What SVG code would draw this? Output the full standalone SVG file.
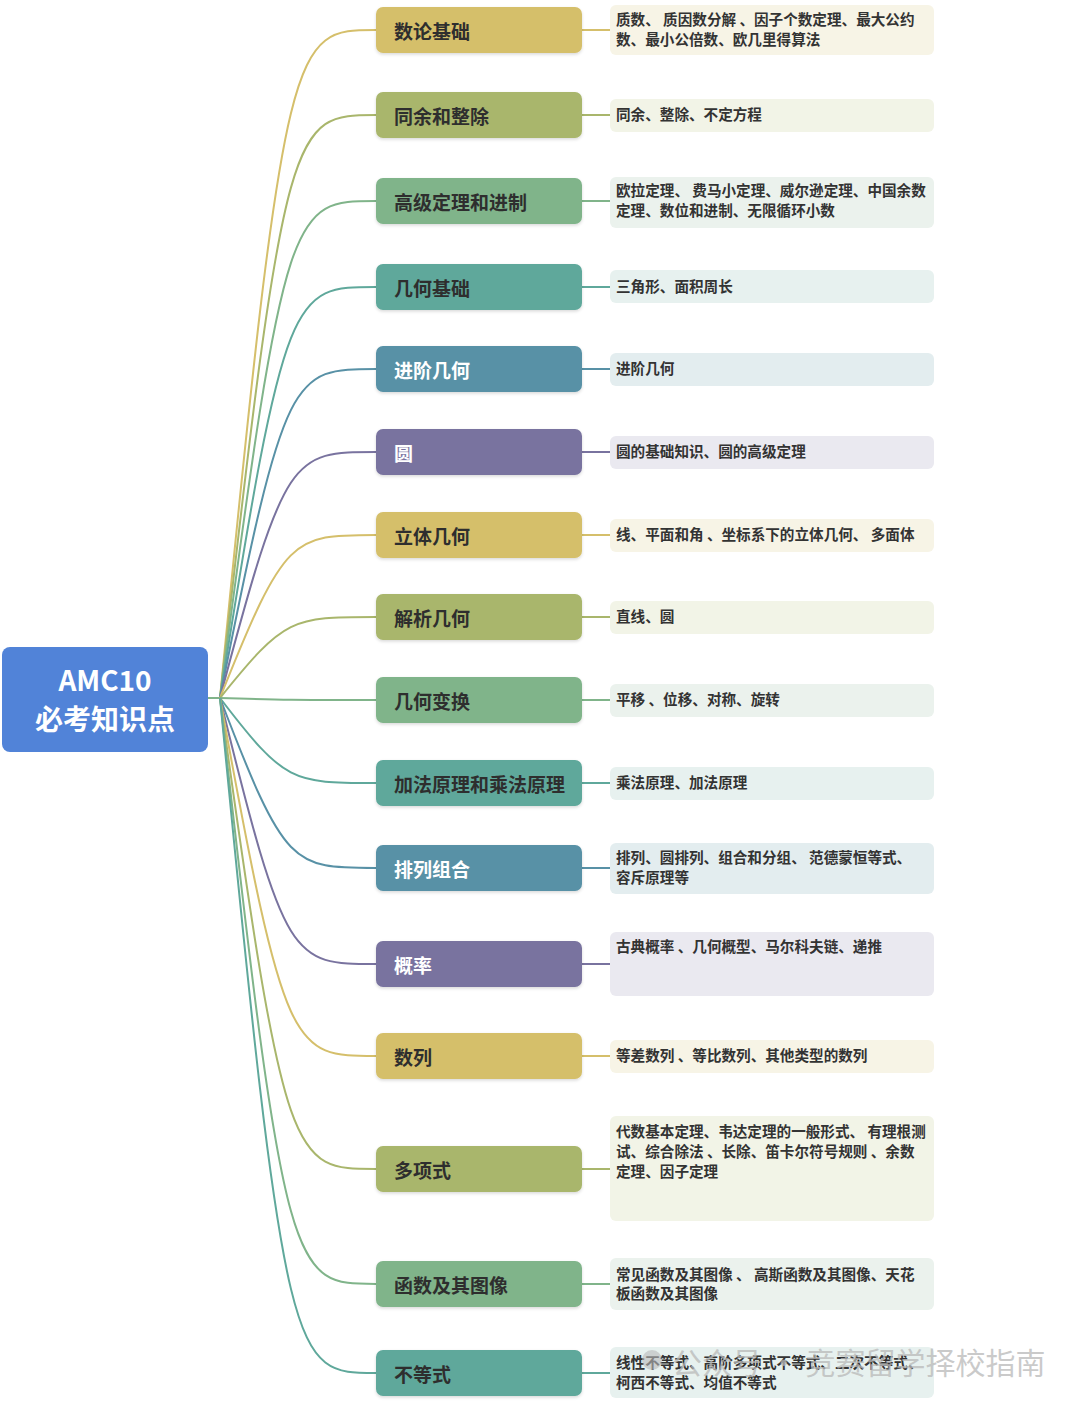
<svg xmlns="http://www.w3.org/2000/svg" width="1080" height="1406" viewBox="0 0 1080 1406">
<style>
.cat{font-family:"Noto Sans CJK SC","Noto Sans",sans-serif;font-size:19px;font-weight:700;fill:#2e2e2e;dominant-baseline:central}
.catw{fill:#ffffff}
.det{font-family:"Noto Sans CJK SC","Noto Sans",sans-serif;font-size:14.6px;font-weight:700;fill:#333333}
.root{font-family:"Noto Sans CJK SC","Noto Sans",sans-serif;font-size:28px;font-weight:700;fill:#ffffff;text-anchor:middle}
.c{fill:none;stroke-width:2}
.gold{fill:#d5bf6b}.olive{fill:#a9b66c}.green{fill:#80b48a}.teal{fill:#5fa89b}.blue{fill:#5891a6}.purple{fill:#79739f}
.sgold{stroke:#d5bf6b}.solive{stroke:#a9b66c}.sgreen{stroke:#80b48a}.steal{stroke:#5fa89b}.sblue{stroke:#5891a6}.spurple{stroke:#79739f}
.dgold{fill:#f7f4e6}.dolive{fill:#f2f4e7}.dgreen{fill:#ebf2ed}.dteal{fill:#e7f1ef}.dblue{fill:#e3edef}.dpurple{fill:#eae9f0}
.wm{font-family:"Noto Sans CJK SC","Noto Sans",sans-serif;font-size:30px;fill:#b9b9b9;fill-opacity:0.75}
</style>
<defs>
<filter id="sh" x="-5%" y="-20%" width="110%" height="150%">
<feDropShadow dx="0" dy="1.5" stdDeviation="1.5" flood-color="#000" flood-opacity="0.15"/>
</filter>
</defs>
<rect width="1080" height="1406" fill="#ffffff"/>

<g id="connectors">
<line x1="208" y1="698" x2="222" y2="698" stroke="#80b48a" stroke-width="2"/>
<path class="c sgold" d="M220,698 C285,30 292,30 376,30"/>
<path class="c solive" d="M220,698 C285,115 292,115 376,115"/>
<path class="c sgreen" d="M220,698 C285,201 292,201 376,201"/>
<path class="c steal" d="M220,698 C285,287 292,287 376,287"/>
<path class="c sblue" d="M220,698 C285,369 292,369 376,369"/>
<path class="c spurple" d="M220,698 C285,452 292,452 376,452"/>
<path class="c sgold" d="M220,698 C285,535 292,535 376,535"/>
<path class="c solive" d="M220,698 C285,617 292,617 376,617"/>
<path class="c sgreen" d="M220,698 C285,700 292,700 376,700"/>
<path class="c steal" d="M220,698 C285,783 292,783 376,783"/>
<path class="c sblue" d="M220,698 C285,868 292,868 376,868"/>
<path class="c spurple" d="M220,698 C285,964 292,964 376,964"/>
<path class="c sgold" d="M220,698 C285,1056 292,1056 376,1056"/>
<path class="c solive" d="M220,698 C285,1169 292,1169 376,1169"/>
<path class="c sgreen" d="M220,698 C285,1284 292,1284 376,1284"/>
<path class="c steal" d="M220,698 C285,1373 292,1373 376,1373"/>
<line class="c sgold" x1="582" y1="30" x2="610" y2="30"/>
<line class="c solive" x1="582" y1="115" x2="610" y2="115"/>
<line class="c sgreen" x1="582" y1="201" x2="610" y2="201"/>
<line class="c steal" x1="582" y1="287" x2="610" y2="287"/>
<line class="c sblue" x1="582" y1="369" x2="610" y2="369"/>
<line class="c spurple" x1="582" y1="452" x2="610" y2="452"/>
<line class="c sgold" x1="582" y1="535" x2="610" y2="535"/>
<line class="c solive" x1="582" y1="617" x2="610" y2="617"/>
<line class="c sgreen" x1="582" y1="700" x2="610" y2="700"/>
<line class="c steal" x1="582" y1="783" x2="610" y2="783"/>
<line class="c sblue" x1="582" y1="868" x2="610" y2="868"/>
<line class="c spurple" x1="582" y1="964" x2="610" y2="964"/>
<line class="c sgold" x1="582" y1="1056" x2="610" y2="1056"/>
<line class="c solive" x1="582" y1="1169" x2="610" y2="1169"/>
<line class="c sgreen" x1="582" y1="1284" x2="610" y2="1284"/>
<line class="c steal" x1="582" y1="1373" x2="610" y2="1373"/>
</g>

<g id="root">
<rect x="2" y="647" width="206" height="105" rx="8" fill="#5183d8"/>
<text class="root" x="105" y="691">AMC10</text>
<text class="root" x="105" y="730">必考知识点</text>
</g>

<g id="n1"><rect class="gold" x="376" y="7" width="206" height="46" rx="7" filter="url(#sh)"/><text class="cat" x="394" y="30">数论基础</text>
<rect class="dgold" x="610" y="5" width="324" height="50" rx="6"/><text class="det" x="616" y="25">质数、 质因数分解 、因子个数定理、最大公约</text><text class="det" x="616" y="45">数、最小公倍数、欧几里得算法</text></g>

<g id="n2"><rect class="olive" x="376" y="92" width="206" height="46" rx="7" filter="url(#sh)"/><text class="cat" x="394" y="115">同余和整除</text>
<rect class="dolive" x="610" y="99" width="324" height="33" rx="6"/><text class="det" x="616" y="120">同余、整除、不定方程</text></g>

<g id="n3"><rect class="green" x="376" y="178" width="206" height="46" rx="7" filter="url(#sh)"/><text class="cat" x="394" y="201">高级定理和进制</text>
<rect class="dgreen" x="610" y="177" width="324" height="51" rx="6"/><text class="det" x="616" y="196">欧拉定理、 费马小定理、威尔逊定理、中国余数</text><text class="det" x="616" y="216">定理、数位和进制、无限循环小数</text></g>

<g id="n4"><rect class="teal" x="376" y="264" width="206" height="46" rx="7" filter="url(#sh)"/><text class="cat" x="394" y="287">几何基础</text>
<rect class="dteal" x="610" y="270" width="324" height="33" rx="6"/><text class="det" x="616" y="292">三角形、面积周长</text></g>

<g id="n5"><rect class="blue" x="376" y="346" width="206" height="46" rx="7" filter="url(#sh)"/><text class="cat catw" x="394" y="369">进阶几何</text>
<rect class="dblue" x="610" y="353" width="324" height="33" rx="6"/><text class="det" x="616" y="374">进阶几何</text></g>

<g id="n6"><rect class="purple" x="376" y="429" width="206" height="46" rx="7" filter="url(#sh)"/><text class="cat catw" x="394" y="452">圆</text>
<rect class="dpurple" x="610" y="436" width="324" height="33" rx="6"/><text class="det" x="616" y="457">圆的基础知识、圆的高级定理</text></g>

<g id="n7"><rect class="gold" x="376" y="512" width="206" height="46" rx="7" filter="url(#sh)"/><text class="cat" x="394" y="535">立体几何</text>
<rect class="dgold" x="610" y="519" width="324" height="33" rx="6"/><text class="det" x="616" y="540">线、平面和角 、坐标系下的立体几何、 多面体</text></g>

<g id="n8"><rect class="olive" x="376" y="594" width="206" height="46" rx="7" filter="url(#sh)"/><text class="cat" x="394" y="617">解析几何</text>
<rect class="dolive" x="610" y="601" width="324" height="33" rx="6"/><text class="det" x="616" y="622">直线、圆</text></g>

<g id="n9"><rect class="green" x="376" y="677" width="206" height="46" rx="7" filter="url(#sh)"/><text class="cat" x="394" y="700">几何变换</text>
<rect class="dgreen" x="610" y="684" width="324" height="33" rx="6"/><text class="det" x="616" y="705">平移 、位移、对称、旋转</text></g>

<g id="n10"><rect class="teal" x="376" y="760" width="206" height="46" rx="7" filter="url(#sh)"/><text class="cat" x="394" y="783">加法原理和乘法原理</text>
<rect class="dteal" x="610" y="767" width="324" height="33" rx="6"/><text class="det" x="616" y="788">乘法原理、加法原理</text></g>

<g id="n11"><rect class="blue" x="376" y="845" width="206" height="46" rx="7" filter="url(#sh)"/><text class="cat catw" x="394" y="868">排列组合</text>
<rect class="dblue" x="610" y="843" width="324" height="51" rx="6"/><text class="det" x="616" y="863">排列、圆排列、组合和分组、 范德蒙恒等式、</text><text class="det" x="616" y="883">容斥原理等</text></g>

<g id="n12"><rect class="purple" x="376" y="941" width="206" height="46" rx="7" filter="url(#sh)"/><text class="cat catw" x="394" y="964">概率</text>
<rect class="dpurple" x="610" y="932" width="324" height="64" rx="6"/><text class="det" x="616" y="952">古典概率 、几何概型、马尔科夫链、递推</text></g>

<g id="n13"><rect class="gold" x="376" y="1033" width="206" height="46" rx="7" filter="url(#sh)"/><text class="cat" x="394" y="1056">数列</text>
<rect class="dgold" x="610" y="1040" width="324" height="33" rx="6"/><text class="det" x="616" y="1061">等差数列 、等比数列、其他类型的数列</text></g>

<g id="n14"><rect class="olive" x="376" y="1146" width="206" height="46" rx="7" filter="url(#sh)"/><text class="cat" x="394" y="1169">多项式</text>
<rect class="dolive" x="610" y="1116" width="324" height="105" rx="6"/><text class="det" x="616" y="1137">代数基本定理、韦达定理的一般形式、 有理根测</text><text class="det" x="616" y="1157">试、综合除法 、长除、笛卡尔符号规则 、余数</text><text class="det" x="616" y="1177">定理、因子定理</text></g>

<g id="n15"><rect class="green" x="376" y="1261" width="206" height="46" rx="7" filter="url(#sh)"/><text class="cat" x="394" y="1284">函数及其图像</text>
<rect class="dgreen" x="610" y="1258" width="324" height="52" rx="6"/><text class="det" x="616" y="1280">常见函数及其图像 、 高斯函数及其图像、天花</text><text class="det" x="616" y="1299">板函数及其图像</text></g>

<g id="n16"><rect class="teal" x="376" y="1350" width="206" height="46" rx="7" filter="url(#sh)"/><text class="cat" x="394" y="1373">不等式</text>
<rect class="dteal" x="610" y="1347" width="324" height="51" rx="6"/><text class="det" x="616" y="1368">线性不等式、高阶多项式不等式、二次不等式、</text><text class="det" x="616" y="1388">柯西不等式、均值不等式</text></g>

<g id="watermark">
<circle cx="652" cy="1360" r="10" fill="#b9b9b9" fill-opacity="0.6"/>
<text class="wm" x="672" y="1374">公众号 · 竞赛留学择校指南</text>
</g>
</svg>
